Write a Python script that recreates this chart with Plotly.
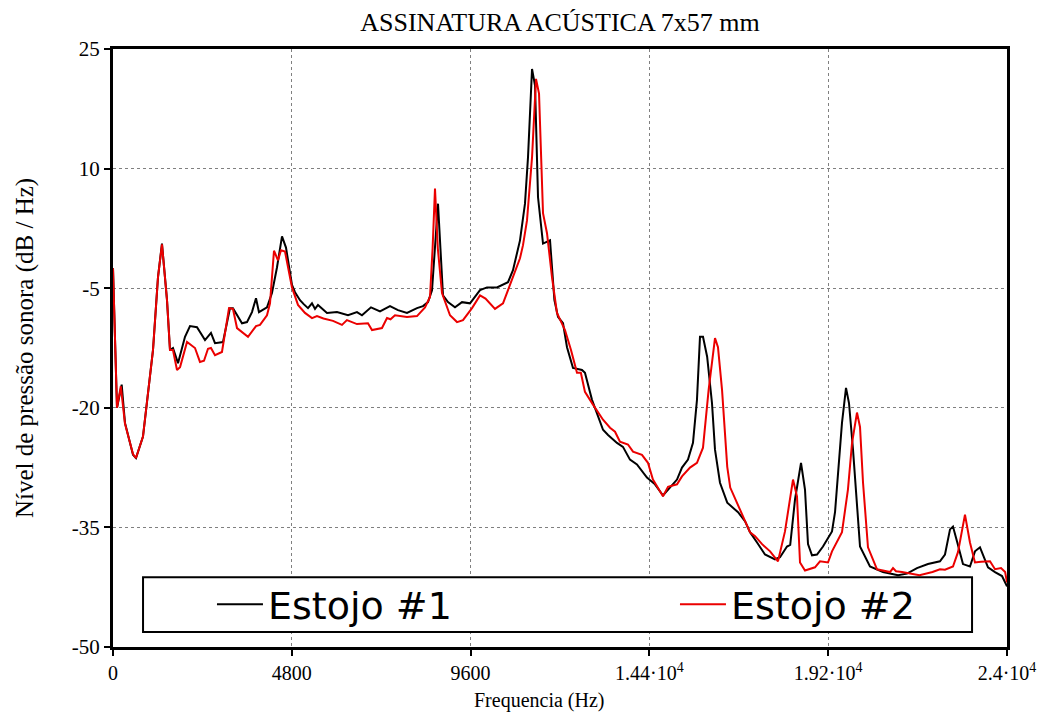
import plotly.graph_objects as go

# Estojo #1 (black)
freq_1 = [0, 107, 233, 322, 537, 617, 805, 1074, 1208, 1315, 1450, 1530, 1610, 1745, 1933,
          2067, 2255, 2470, 2630, 2738, 2953, 3141, 3221, 3463, 3597, 3731, 3839, 3919, 4134,
          4268, 4402, 4537, 4644, 4805, 4886, 5020, 5120, 5235, 5342, 5423, 5503, 5745, 6013,
          6309, 6550, 6684, 6926, 7168, 7436, 7651, 7892, 8161, 8322, 8456, 8564, 8650, 8725,
          8790, 8859, 8993, 9181, 9369, 9584, 9853, 10040, 10309, 10604, 10738, 10926, 11060,
          11141, 11249, 11330, 11410, 11544, 11732, 11790, 11850, 11946, 12081, 12188, 12349,
          12591, 12670, 12859, 13020, 13155, 13290, 13530, 13690, 13879, 14066, 14335, 14550,
          14765, 14950, 15141, 15275, 15436, 15570, 15677, 15758, 15839, 15950, 16080, 16161,
          16295, 16490, 16650, 16780, 16970, 17101, 17290, 17503, 17772, 17906, 18094, 18180,
          18309, 18470, 18577, 18658, 18765, 18900, 19060, 19302, 19383, 19570, 19678, 19758,
          19866, 20054, 20322, 20670, 21073, 21315, 21583, 21878, 22200, 22335, 22470, 22550,
          22657, 22818, 23006, 23140, 23275, 23355, 23490, 23678, 23866, 24000]
nivel_1 = [-2.5, -20, -17.1, -21.9, -25.9, -26.3, -23.6, -12.75, -3.6, 0.6, -6.5, -12.75, -12.5,
           -14.4, -11.1, -9.75, -9.9, -11.5, -10.6, -11.9, -11.75, -7.5, -7.5, -9.4, -9.25, -8.0,
           -6.25, -8.0, -7.4, -5.6, -2.4, 1.5, 0.1, -4.6, -5.5, -6.5, -7.0, -7.5, -6.9, -7.6, -7.1,
           -8.1, -8.0, -8.4, -8.0, -8.4, -7.4, -7.9, -7.25, -7.75, -8.1, -7.5, -7.25, -6.75, -5.25,
           1.0, 5.6, 0.0, -5.9, -6.75, -7.4, -6.75, -6.9, -5.25, -4.9, -4.9, -4.25, -2.75, 1.0,
           5.6, 11.4, 22.5, 20.4, 6.4, 0.6, 1.0, -2.75, -6.5, -8.6, -9.4, -12.4, -15.0, -15.25,
           -15.6, -19.0, -21.1, -22.75, -23.4, -24.4, -24.9, -26.5, -27.1, -28.75, -29.6, -31.0,
           -30.0, -29.0, -27.5, -26.5, -24.4, -19.0, -11.1, -11.1, -13.6, -19.4, -25.25, -29.4,
           -31.9, -32.5, -33.1, -34.25, -35.6, -36.9, -38.4, -39.0, -38.75, -37.4, -37.2, -31.5,
           -26.9, -30.25, -37.1, -38.5, -38.4, -37.4, -35.5, -33.1, -21.9, -17.5, -19.4, -25.25,
           -37.4, -39.9, -40.6, -41.0, -40.8, -40.1, -39.6, -39.25, -38.4, -35.25, -34.9, -36.75,
           -39.6, -39.9, -38.0, -37.5, -38.4, -40.0, -40.6, -41.1, -42.4]

# Estojo #2 (red)
freq_2 = [0, 107, 210, 322, 537, 617, 805, 1074, 1208, 1315, 1450, 1530, 1610, 1718, 1800,
          1987, 2201, 2335, 2443, 2550, 2630, 2738, 2925, 3114, 3221, 3329, 3624, 3839, 3946,
          4134, 4215, 4322, 4429, 4510, 4617, 4805, 4966, 5154, 5342, 5476, 5650, 5906, 6147,
          6280, 6550, 6845, 6953, 7221, 7356, 7450, 7570, 7892, 8161, 8376, 8510, 8580, 8644,
          8720, 8832, 9047, 9235, 9396, 9638, 9853, 10000, 10255, 10470, 10738, 10926, 11007,
          11114, 11249, 11356, 11437, 11544, 11651, 11785, 11919, 12081, 12134, 12295, 12456,
          12560, 12670, 12886, 13155, 13343, 13477, 13610, 13825, 13960, 14200, 14361, 14495,
          14765, 14900, 15141, 15275, 15490, 15677, 15839, 15990, 16161, 16241, 16350, 16490,
          16570, 16800, 16990, 17100, 17237, 17425, 17640, 17852, 18040, 18255, 18362, 18443,
          18577, 18845, 18980, 19140, 19195, 19302, 19570, 19730, 19840, 19973, 20054, 20135,
          20268, 20510, 20859, 20940, 21020, 21180, 21650, 22000, 22200, 22335, 22550, 22684,
          22872, 23006, 23140, 23300, 23543, 23678, 23840, 23950, 24000]
nivel_2 = [-2.5, -20, -17.3, -22, -25.8, -26.3, -23.6, -12.75, -3.6, 0.5, -6.5, -12.75, -12.75,
           -15.25, -14.9, -11.75, -12.5, -14.25, -14.1, -12.6, -12.5, -13.4, -13.0, -7.5, -7.6,
           -10.0, -11.1, -9.75, -9.6, -8.4, -6.9, -0.3, -1.5, -0.25, -0.4, -4.9, -7.1, -8.1,
           -8.75, -8.5, -8.8, -9.1, -9.6, -9.0, -9.5, -9.4, -10.25, -10.0, -8.75, -8.9, -8.4,
           -8.6, -8.5, -7.4, -6.1, 0.0, 7.5, 0.0, -5.6, -8.4, -9.25, -9.0, -7.5, -5.9, -6.3,
           -7.6, -6.9, -3.6, -1.25, 0.4, 3.5, 11.4, 21.25, 19.4, 4.4, 1.9, -3.6, -8.1, -9.9,
           -10.25, -12.75, -15.6, -15.6, -18.0, -19.6, -21.5, -22.5, -23.0, -24.25, -24.6, -25.5,
           -25.9, -26.9, -29.0, -31.1, -29.9, -29.6, -28.6, -27.5, -26.9, -25.0, -17.75, -11.25,
           -12.4, -17.75, -27.4, -30.0, -32.4, -34.4, -35.6, -36.1, -37.1, -38.0, -39.25, -35.5,
           -29.0, -31.1, -39.4, -40.4, -40.0, -39.25, -39.3, -39.4, -38.0, -35.6, -30.25, -24.4,
           -20.6, -22.4, -29.4, -37.5, -40.25, -40.6, -40.1, -40.5, -40.6, -41.0, -40.6, -40.25,
           -40.3, -39.9, -38.1, -33.4, -36.9, -39.4, -39.3, -39.25, -40.25, -40.1, -40.6, -41.9]

x_ticks = [0, 4800, 9600, 14400, 19200, 24000]
x_tick_labels = ["0", "4800", "9600", "1.44·10<sup>4</sup>", "1.92·10<sup>4</sup>", "2.4·10<sup>4</sup>"]
y_ticks = [-50, -35, -20, -5, 10, 25]
y_tick_labels = ["-50", "-35", "-20", "-5", "10", "25"]

SERIF = "Liberation Serif, Times New Roman, serif"

fig = go.Figure()
fig.add_trace(go.Scatter(x=freq_1, y=nivel_1, mode="lines", name="Estojo #1",
                         line=dict(color="black", width=2), legendwidth=402))
fig.add_trace(go.Scatter(x=freq_2, y=nivel_2, mode="lines", name="Estojo #2",
                         line=dict(color="rgb(235,0,0)", width=2)))

# legend frame
fig.add_shape(type="rect", xref="paper", yref="paper",
              x0=0.0336, x1=0.9609, y0=0.025, y1=0.1167,
              line=dict(color="black", width=2), fillcolor="white", layer="above")

# x-axis title
fig.add_annotation(text="Frequencia (Hz)", xref="paper", yref="paper",
                   x=0.4776, y=-0.09, xanchor="center", yanchor="middle", showarrow=False,
                   font=dict(family=SERIF, size=20, color="black"))

fig.update_layout(
    width=1051, height=715,
    margin=dict(l=113, r=44, t=49, b=68),
    paper_bgcolor="white", plot_bgcolor="white",
    title=dict(text="ASSINATURA ACÚSTICA 7x57 mm", x=0.5, xref="paper",
               y=1 - 22 / 715, yref="container", yanchor="middle", xanchor="center",
               font=dict(family=SERIF, size=26, color="black")),
    showlegend=True,
    legend=dict(orientation="h", x=0.1107, xanchor="left", y=0.071, yanchor="middle",
                bgcolor="rgba(0,0,0,0)", borderwidth=0,
                font=dict(family="DejaVu Sans", size=38, color="black"),
                itemwidth=46),
    xaxis=dict(range=[0, 24000], tickvals=x_ticks, ticktext=x_tick_labels,
               showline=True, linewidth=3, linecolor="black", mirror=True,
               ticks="outside", ticklen=6, tickwidth=2, tickcolor="black",
               showgrid=True, gridcolor="#808080", gridwidth=1, griddash="dot",
               zeroline=False,
               tickfont=dict(family=SERIF, size=20, color="black")),
    yaxis=dict(range=[-50, 25], tickvals=y_ticks, ticktext=y_tick_labels,
               showline=True, linewidth=3, linecolor="black", mirror=True,
               ticks="outside", ticklen=6, tickwidth=2, tickcolor="black",
               showgrid=True, gridcolor="#808080", gridwidth=1, griddash="dot",
               zeroline=False,
               tickfont=dict(family=SERIF, size=21, color="black"),
               title=dict(text="Nível de pressão sonora (dB / Hz)", standoff=32,
                          font=dict(family=SERIF, size=25, color="black"))),
)

fig.write_html("out.html")
